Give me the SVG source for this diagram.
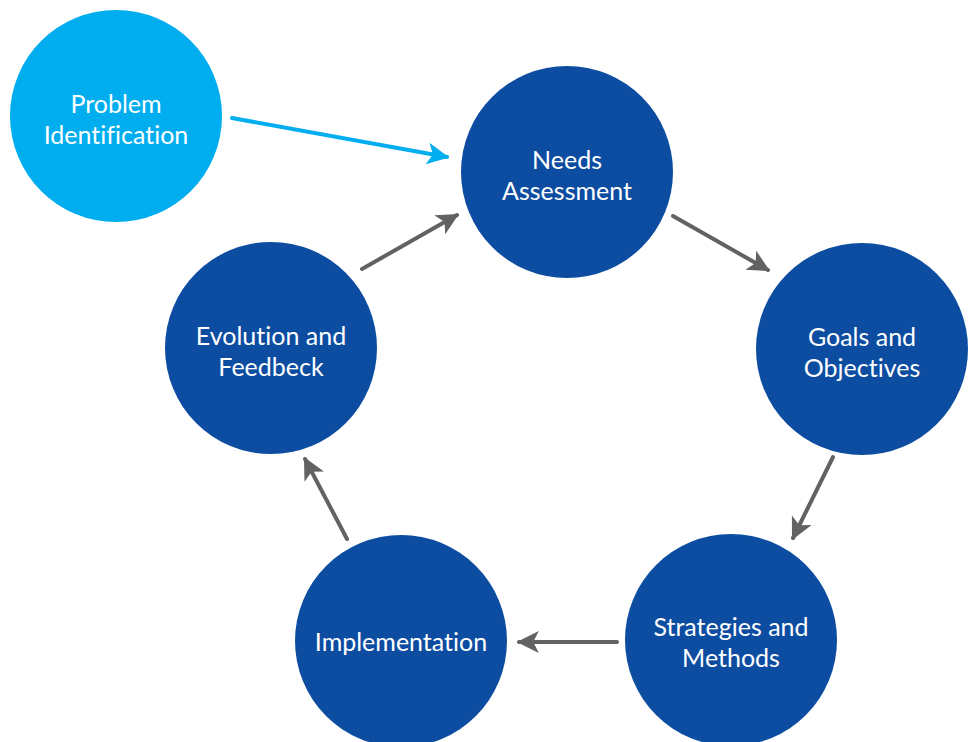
<svg xmlns="http://www.w3.org/2000/svg" width="969" height="742" viewBox="0 0 969 742">
<defs>
<style>
.n{fill:#0D4DA1}
.p{fill:#00AEEF}
.t{fill:#fff;font-family:Lato,"Open Sans",sans-serif;font-size:25px;text-anchor:middle;font-variant-ligatures:none}
.g{stroke:#626262;stroke-width:4;stroke-linecap:round;fill:none}
.b{stroke:#00AEEF;stroke-width:4;stroke-linecap:round;fill:none}
</style>
<marker id="ag" viewBox="0 0 10 10" refX="9" refY="5" markerWidth="6" markerHeight="5.5" markerUnits="strokeWidth" orient="auto"><path d="M0,0 L10,5 L0,10 L2.5,5 z" fill="#626262"/></marker>
<marker id="ab" viewBox="0 0 10 10" refX="9" refY="5" markerWidth="6" markerHeight="5.5" markerUnits="strokeWidth" orient="auto"><path d="M0,0 L10,5 L0,10 L2.5,5 z" fill="#00AEEF"/></marker>
</defs>
<rect width="969" height="742" fill="#fff"/>
<g id="connectors">
<line class="b" x1="232" y1="118" x2="447" y2="157" marker-end="url(#ab)"/>
<line class="g" x1="673" y1="216" x2="768" y2="270" marker-end="url(#ag)"/>
<line class="g" x1="833" y1="457" x2="793" y2="538" marker-end="url(#ag)"/>
<line class="g" x1="617" y1="642" x2="519" y2="642" marker-end="url(#ag)"/>
<line class="g" x1="347" y1="539" x2="305" y2="459" marker-end="url(#ag)"/>
<line class="g" x1="362" y1="269" x2="457" y2="215" marker-end="url(#ag)"/>
</g>
<g id="problem"><circle class="p" cx="116" cy="116" r="106"/><text class="t" x="116" y="113">Problem</text><text class="t" x="116" y="144">Identification</text></g>
<g id="needs"><circle class="n" cx="567" cy="172" r="106"/><text class="t" x="567" y="169">Needs</text><text class="t" x="567" y="200">Assessment</text></g>
<g id="goals"><circle class="n" cx="862" cy="349" r="106"/><text class="t" x="862" y="346">Goals and</text><text class="t" x="862" y="377">Objectives</text></g>
<g id="strategies"><circle class="n" cx="731" cy="640" r="106"/><text class="t" x="731" y="636">Strategies and</text><text class="t" x="731" y="667">Methods</text></g>
<g id="implementation"><circle class="n" cx="401" cy="641" r="106"/><text class="t" x="401" y="651">Implementation</text></g>
<g id="evolution"><circle class="n" cx="271" cy="348" r="106"/><text class="t" x="271" y="345">Evolution and</text><text class="t" x="271" y="376">Feedbeck</text></g>
</svg>
